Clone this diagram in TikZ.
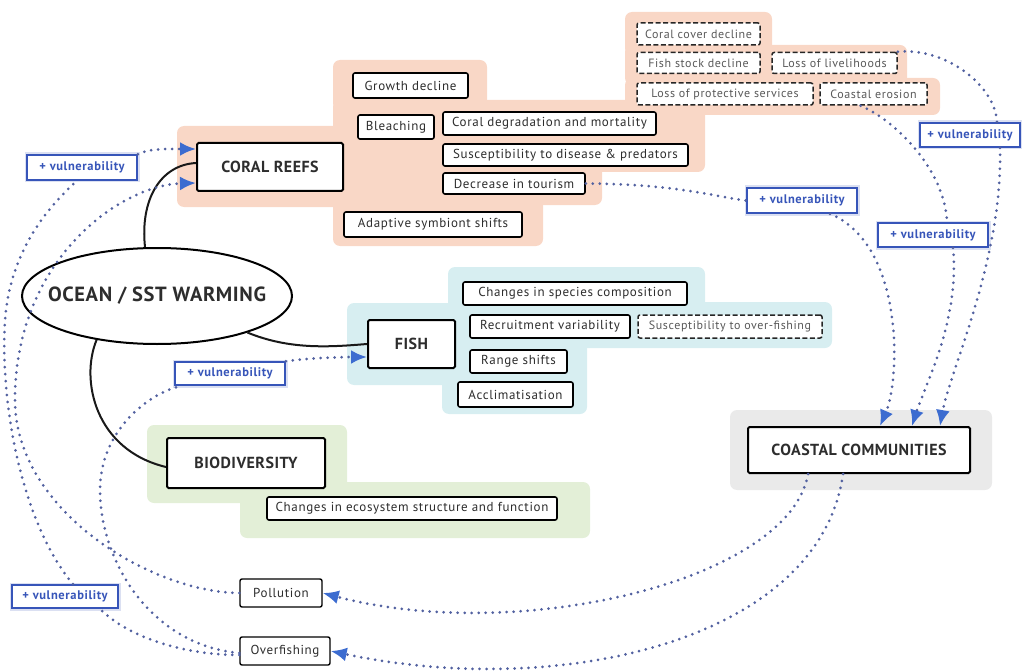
\documentclass[tikz,border=0pt]{standalone}
\usepackage{fontspec}
\setmainfont{PT Sans}
\newfontfamily\itemfont[LetterSpace=5]{PT Sans}
\newfontfamily\headfont[LetterSpace=3]{PT Sans}
\usetikzlibrary{arrows.meta,shapes.geometric}
\definecolor{bgsalmon}{RGB}{249,215,198}
\definecolor{bgteal}{RGB}{215,238,241}
\definecolor{bggreen}{RGB}{227,239,215}
\definecolor{bggrey}{RGB}{234,234,234}
\definecolor{vblue}{RGB}{55,85,185}
\definecolor{dotc}{RGB}{82,97,160}
\definecolor{arrc}{RGB}{60,108,208}
\definecolor{txt}{RGB}{45,45,45}
\begin{document}
\begin{tikzpicture}[x=1pt,y=-1pt,
  mainbox/.style={draw=black, line width=2pt, fill=white, rounded corners=1.5pt, inner sep=2pt,
    font=\headfont\bfseries\fontsize{16}{19}\selectfont, text=txt},
  itembox/.style={draw=black, line width=1.6pt, fill=white, rounded corners=2pt, inner sep=1pt,
    font=\itemfont\fontsize{13}{15}\selectfont, text=txt},
  dashbox/.style={draw=black!85, line width=1.5pt, dash pattern=on 5pt off 2.5pt, fill=white, rounded corners=2pt, inner sep=1pt,
    font=\itemfont\fontsize{12}{14}\selectfont, text=black!65},
  vulbox/.style={draw=vblue, line width=1.6pt, fill=white, inner sep=1pt,
    preaction={draw=vblue!18, line width=5pt},
    font=\itemfont\bfseries\fontsize{12.5}{14}\selectfont, text=vblue},
  dotline/.style={draw=dotc, line width=3pt, line cap=round, dash pattern=on 0pt off 7pt},
  tipend/.style={-{Latex[length=16pt,width=14pt,color=arrc]}},
  link/.style={draw=black!90, line width=2pt}
]
\useasboundingbox (0,0) rectangle (1022,671);

% background regions
\begin{scope}[rounded corners=7pt]
\fill[bgsalmon] (177,126) rectangle (350,207);
\fill[bgsalmon] (333,60) rectangle (487,110);
\fill[bgsalmon] (333,100) rectangle (705,172);
\fill[bgsalmon] (333,165) rectangle (602,205);
\fill[bgsalmon] (333,198) rectangle (543,246);
\fill[bgsalmon] (625,12) rectangle (772,55);
\fill[bgsalmon] (625,45) rectangle (907,85);
\fill[bgsalmon] (625,78) rectangle (940,115);
\fill[bgteal] (448,267) rectangle (705,312);
\fill[bgteal] (448,302) rectangle (832,348);
\fill[bgteal] (347,303) rectangle (462,385);
\fill[bgteal] (442,340) rectangle (587,414);
\fill[bggreen] (147,425) rectangle (347,503);
\fill[bggreen] (240,482) rectangle (590,538);
\fill[bggrey] (730,410) rectangle (992,490);
\end{scope}

% main nodes
\node[draw=black, line width=2pt, ellipse, fill=white, inner sep=0pt, minimum width=270pt, minimum height=96pt,
  label={[font=\headfont\bfseries\fontsize{20.5}{24}\selectfont, text=txt]center:OCEAN / SST WARMING}] (ocean) at (157,296) {};
\node[mainbox, minimum width=146pt, minimum height=48pt] (cr) at (270,167) {CORAL REEFS};
\node[mainbox, minimum width=87pt, minimum height=48pt] (fish) at (411.5,344) {FISH};
\node[mainbox, minimum width=158pt, minimum height=50pt] (bio) at (246,463) {BIODIVERSITY};
\node[mainbox, minimum width=222pt, minimum height=46pt] (cc) at (859,450) {COASTAL COMMUNITIES};

% coral items
\node[itembox, minimum width=115pt, minimum height=25pt] (gd) at (410.5,85.5) {Growth decline};
\node[itembox, minimum width=76pt, minimum height=24pt] (bl) at (396,127) {Bleaching};
\node[itembox, minimum width=213pt, minimum height=23pt] (cdm) at (549.5,123.5) {Coral degradation and mortality};
\node[itembox, minimum width=245pt, minimum height=22pt] (sdp) at (565.5,155) {Susceptibility to disease \& predators};
\node[itembox, minimum width=142pt, minimum height=21pt] (dit) at (514,183.5) {Decrease in tourism};
\node[itembox, minimum width=178pt, minimum height=25pt] (ass) at (433,224.5) {Adaptive symbiont shifts};

% top-right dashed items
\node[dashbox, minimum width=123pt, minimum height=22pt] (ccd) at (698.5,34) {Coral cover decline};
\node[dashbox, minimum width=123pt, minimum height=21pt] (fsd) at (698.5,63) {Fish stock decline};
\node[dashbox, minimum width=125pt, minimum height=21pt] (ll) at (834.5,63) {Loss of livelihoods};
\node[dashbox, minimum width=176pt, minimum height=22pt] (lps) at (725,94) {Loss of protective services};
\node[dashbox, minimum width=107pt, minimum height=22pt] (ce) at (873.5,94) {Coastal erosion};

% fish items
\node[itembox, minimum width=224pt, minimum height=23pt] (csc) at (575,293.5) {Changes in species composition};
\node[itembox, minimum width=160pt, minimum height=23pt] (rv) at (550,326.5) {Recruitment variability};
\node[dashbox, minimum width=184pt, minimum height=23pt] (sof) at (730,326.5) {Susceptibility to over-fishing};
\node[itembox, minimum width=97pt, minimum height=23pt] (rs) at (518.5,361.5) {Range shifts};
\node[itembox, minimum width=115pt, minimum height=25pt] (acc) at (515.5,394.5) {Acclimatisation};

% biodiversity item
\node[itembox, minimum width=290pt, minimum height=23pt] (ces) at (412,508.5) {Changes in ecosystem structure and function};

% stressors
\node[itembox, line width=1.4pt, minimum width=82pt, minimum height=28pt] (pol) at (281,593) {Pollution};
\node[itembox, line width=1.4pt, minimum width=90pt, minimum height=28pt] (ovf) at (285,651) {Overfishing};

% vulnerability labels
\node[vulbox, minimum width=110pt, minimum height=25pt] (v1) at (82,167.5) {+ vulnerability};
\node[vulbox, minimum width=110pt, minimum height=23pt] (v2) at (230,373.5) {+ vulnerability};
\node[vulbox, minimum width=110pt, minimum height=25pt] (v3) at (802,200.5) {+ vulnerability};
\node[vulbox, minimum width=110pt, minimum height=24pt] (v4) at (933,235) {+ vulnerability};
\node[vulbox, minimum width=100pt, minimum height=24pt] (v5) at (970,135) {+ vulnerability};
\node[vulbox, minimum width=106pt, minimum height=23pt] (v6) at (65,596.5) {+ vulnerability};

% solid links from ocean
\draw[link] ([xshift=-12pt]ocean.north) .. controls (140,200) and (160,165) .. ([yshift=4pt]cr.west);
\draw[link] (ocean.-22) .. controls (290,350) and (330,347) .. (fish.west);
\draw[link] (ocean.-144) .. controls (80,380) and (95,450) .. ([yshift=-4pt]bio.west);

% dotted connectors
\draw[dotline, tipend] (v1.north east) .. controls (150,148) and (170,149) .. ([yshift=18pt]cr.west);
\draw[dotline, tipend] (pol.west) .. controls (150,592) and (15,510) .. (15,400) .. controls (15,260) and (120,185) .. ([yshift=-16pt]cr.west);
\draw[dotline] ([yshift=-2pt]ovf.west) .. controls (150,645) and (100,560) .. (100,490) .. controls (100,430) and (150,392) .. ([xshift=8pt]v2.south west);
\draw[dotline, tipend] (v2.north east) .. controls (310,358) and (340,357) .. ([yshift=-13pt]fish.west);
\draw[dotline] ([yshift=-4pt]ovf.west) .. controls (180,655) and (125,635) .. ([xshift=35pt]v6.south);
\draw[dotline] ([xshift=8pt]v6.north) .. controls (20,520) and (0,400) .. (5,320) .. controls (10,250) and (50,205) .. ([xshift=-5pt]v1.south);
\draw[dotline] (dit.east) .. controls (680,184) and (720,198) .. (v3.west);
\draw[dotline, tipend] ([xshift=28pt]v3.south) .. controls (905,245) and (900,380) .. ([xshift=21pt]cc.north);
\draw[dotline] ([xshift=-13pt]ce.south) .. controls (895,120) and (945,170) .. ([xshift=14pt]v4.north);
\draw[dotline, tipend] ([xshift=20pt]v4.south) .. controls (960,320) and (925,385) .. ([xshift=53pt]cc.north);
\draw[dotline] (ll.north east) .. controls (945,47) and (995,85) .. ([xshift=27pt]v5.north);
\draw[dotline, tipend] ([xshift=30pt]v5.south) .. controls (1003,260) and (950,370) .. ([xshift=81pt]cc.north);
\draw[dotline, tipend] ([xshift=-51pt]cc.south) .. controls (790,580) and (520,645) .. (pol.east);
\draw[dotline, tipend] ([xshift=-16pt]cc.south) .. controls (820,640) and (560,700) .. (ovf.east);
\end{tikzpicture}
\end{document}
